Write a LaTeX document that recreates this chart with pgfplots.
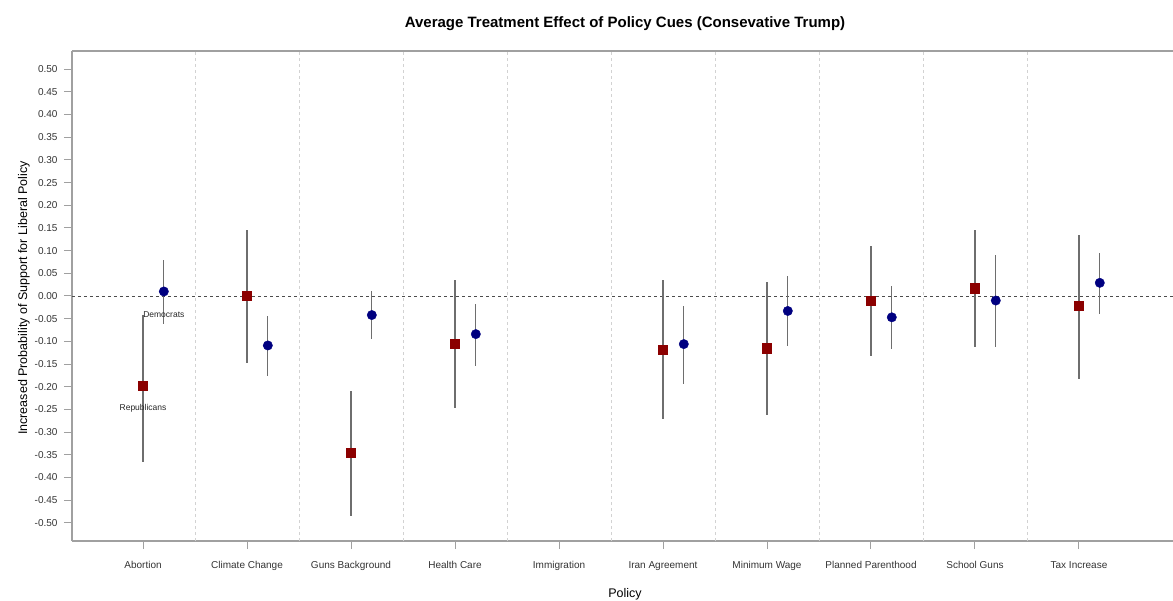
\documentclass[border=0pt]{standalone}
\usepackage{fontspec}
\setmainfont{Liberation Sans}
\usepackage{pgfplots}
\usepackage{pgfplotstable}
\pgfplotsset{compat=1.18}

\definecolor{repred}{RGB}{139,0,0}
\definecolor{demblue}{RGB}{0,0,128}
\definecolor{framegray}{RGB}{160,160,160}
\definecolor{cigray}{RGB}{110,110,110}

% Republicans: estimate, lower and upper bound of the interval
\pgfplotstableread{
x    y       lo      hi
1   -0.198  -0.366  -0.042
2    0.000  -0.148   0.146
3   -0.346  -0.485  -0.210
4   -0.105  -0.247   0.035
6   -0.118  -0.272   0.036
7   -0.115  -0.262   0.031
8   -0.011  -0.133   0.111
9    0.017  -0.112   0.145
10  -0.022  -0.182   0.135
}\reps

% Democrats
\pgfplotstableread{
x     y       lo      hi
1.2   0.010  -0.062   0.079
2.2  -0.109  -0.176  -0.043
3.2  -0.042  -0.095   0.010
4.2  -0.084  -0.155  -0.018
6.2  -0.106  -0.194  -0.021
7.2  -0.033  -0.111   0.043
8.2  -0.047  -0.117   0.021
9.2  -0.010  -0.112   0.091
10.2  0.029  -0.039   0.094
}\dems

\begin{document}
\begin{tikzpicture}[x=1pt,y=1pt]
\useasboundingbox (-72,-59) rectangle (1101,541);
\begin{axis}[
    at={(0,0)}, anchor=south west,
    scale only axis,
    width=1101pt, height=490pt,
    xmin=0.317, xmax=10.904,
    ymin=-0.54, ymax=0.54,
    axis x line*=box, axis y line*=left,
    axis line style={framegray, line width=1.2pt},
    xtick={1,...,10},
    xticklabels={Abortion, Climate Change, Guns Background, Health Care, Immigration,
                 Iran Agreement, Minimum Wage, Planned Parenthood, School Guns, Tax Increase},
    ytick={-0.5,-0.45,-0.4,-0.35,-0.3,-0.25,-0.2,-0.15,-0.1,-0.05,0,
           0.05,0.1,0.15,0.2,0.25,0.3,0.35,0.4,0.45,0.5},
    xtick pos=bottom, ytick pos=left,
    tick align=outside,
    major tick length=8pt,
    tick style={framegray, line width=1pt},
    extra x ticks={1.5,2.5,3.5,4.5,5.5,6.5,7.5,8.5,9.5},
    extra x tick labels={},
    extra x tick style={major tick length=0pt, grid=major,
        major grid style={dashed, gray!35, line width=0.8pt}},
    ticklabel style={font=\fontsize{10}{12}\selectfont, text=black!80},
    xticklabel style={yshift=-9pt},
    /pgf/number format/assume math mode=true,
    yticklabel style={xshift=-3pt, /pgf/number format/.cd, fixed, fixed zerofill, precision=2},
    clip=false,
]

% reference line at zero
\addplot[dashed, gray!60!black, line width=0.8pt, forget plot]
    coordinates {(0.317,0) (10.904,0)};

% confidence intervals
\addplot[draw=none, mark=none, forget plot,
    error bars/.cd, y dir=both, y explicit, error mark=none,
    error bar style={draw=cigray, line width=1.2pt, solid}]
    table[x=x, y=y, y error plus expr=\thisrow{hi}-\thisrow{y},
          y error minus expr=\thisrow{y}-\thisrow{lo}] {\reps};
\addplot[draw=none, mark=none, forget plot,
    error bars/.cd, y dir=both, y explicit, error mark=none,
    error bar style={draw=cigray, line width=1.2pt, solid}]
    table[x=x, y=y, y error plus expr=\thisrow{hi}-\thisrow{y},
          y error minus expr=\thisrow{y}-\thisrow{lo}] {\dems};

% point estimates
\addplot[only marks, mark=square*, mark size=4.6pt, repred] table[x=x, y=y] {\reps};
\addplot[only marks, mark=*, mark size=4.7pt, demblue] table[x=x, y=y] {\dems};

\node[font=\fontsize{8.5}{10}\selectfont, text=black!85] at (axis cs:1.2,-0.040) {Democrats};
\node[font=\fontsize{8.5}{10}\selectfont, text=black!85] at (axis cs:1.0,-0.247) {Republicans};
\end{axis}

\node[font=\fontsize{15}{18}\selectfont\bfseries] at (553,517)
    {Average Treatment Effect of Policy Cues (Consevative Trump)};
\node[font=\fontsize{12.5}{15}\selectfont] at (553,-53) {Policy};
\node[font=\fontsize{12.5}{15}\selectfont, rotate=90] at (-48,243)
    {Increased Probability of Support for Liberal Policy};
\end{tikzpicture}
\end{document}
